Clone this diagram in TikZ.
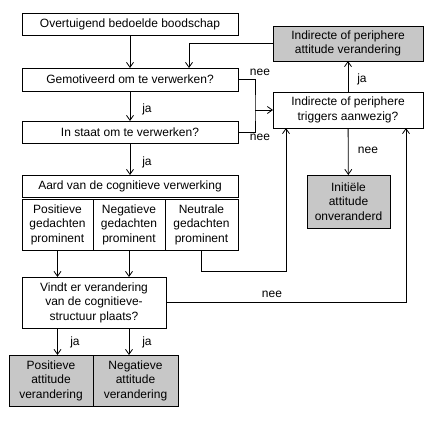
\documentclass[tikz,border=0pt]{standalone}
\usepackage{fontspec}
\setmainfont{Liberation Sans}
\usetikzlibrary{arrows.meta}

\begin{document}
\begin{tikzpicture}[
    x=1pt, y=-1pt,
    box/.style={draw=black, line width=0.8pt, inner sep=0pt, outer sep=0pt, align=center, font=\fontsize{12}{14.5}\selectfont},
    result/.style={box, fill=black!22},
    arrow/.style={-{Straight Barb[length=5pt, width=7pt]}, line width=0.8pt},
    line/.style={line width=0.8pt},
    lbl/.style={font=\fontsize{12}{14.5}\selectfont, inner sep=0pt}
]
    \fill[white] (0,0) rectangle (432,432);
    \useasboundingbox (0,0) rectangle (432,432);

    % --- Left Column (Central Route) ---
    \node[box, minimum width=216pt, minimum height=22pt] (msg) at (130, 24) {Overtuigend bedoelde boodschap};
    \node[box, minimum width=216pt, minimum height=23pt] (motiv) at (130, 79.5) {Gemotiveerd om te verwerken?};
    \node[box, minimum width=216pt, minimum height=22pt] (able) at (130, 132) {In staat om te verwerken?};
    \node[box, minimum width=216pt, minimum height=22pt] (kind) at (130, 186) {Aard van de cognitieve verwerking};

    \node[box, minimum width=71pt, minimum height=51pt] (pos) at (57.5, 224.5) {Positieve\\gedachten\\prominent};
    \node[box, minimum width=72pt, minimum height=51pt] (neg) at (129, 224.5) {Negatieve\\gedachten\\prominent};
    \node[box, minimum width=73pt, minimum height=51pt] (neu) at (201.5, 224.5) {Neutrale\\gedachten\\prominent};

    \node[box, minimum width=144pt, minimum height=51pt] (change) at (94, 302.5) {Vindt er verandering\\van de cognitieve-\\structuur plaats?};

    \node[result, minimum width=84pt, minimum height=51pt] (posatt) at (51, 380.5) {Positieve\\attitude\\verandering};
    \node[result, minimum width=85pt, minimum height=51pt] (negatt) at (135.5, 380.5) {Negatieve\\attitude\\verandering};

    % --- Right Column (Peripheral Route) ---
    \node[result, minimum width=150pt, minimum height=35pt] (periph) at (348, 43.5) {Indirecte of periphere\\attitude verandering};
    \node[box, minimum width=150pt, minimum height=36pt] (trig) at (348, 110) {Indirecte of periphere\\triggers aanwezig?};
    \node[result, minimum width=83pt, minimum height=53pt] (init) at (348.5, 201.5) {Initiële\\attitude\\onveranderd};

    % --- Connectors ---
    \draw[arrow] (msg) -- (motiv);
    \draw[arrow] (periph.west) -| ([xshift=59pt]motiv.north);
    \draw[arrow] (motiv) -- (able);
    \draw[arrow] (able) -- (kind);

    \coordinate (join) at (255, 110);
    \draw[line] (motiv.east) -| (join) |- (able.east);
    \draw[arrow] (join) -- (trig.west);

    \draw[arrow] (trig) -- (periph);
    \draw[arrow] (trig) -- (init);

    \draw[arrow] (pos) -- (pos |- change.north);
    \draw[arrow] (neg) -- (neg |- change.north);
    \draw[arrow] (neu.south) -- ++(0, 21) -| ([xshift=-62pt]trig.south);
    \draw[arrow] (change.east) -| ([xshift=58pt]trig.south);

    \draw[arrow] (change.south -| pos) -- (pos |- posatt.north);
    \draw[arrow] (change.south -| neg) -- (neg |- negatt.north);

    % --- Labels ---
    \node[lbl] (nee1) at (260, 72) {nee};
    \node[lbl] (nee2) at (260, 137) {nee};
    \node[lbl] (ja1) at (147, 109) {ja};
    \node[lbl] (ja2) at (147, 162) {ja};
    \node[lbl] (ja3) at (362, 79) {ja};
    \node[lbl] (nee3) at (368, 150) {nee};
    \node[lbl] (nee4) at (272, 294) {nee};
    \node[lbl] (ja4) at (75, 342) {ja};
    \node[lbl] (ja5) at (147, 342) {ja};

\end{tikzpicture}
\end{document}
